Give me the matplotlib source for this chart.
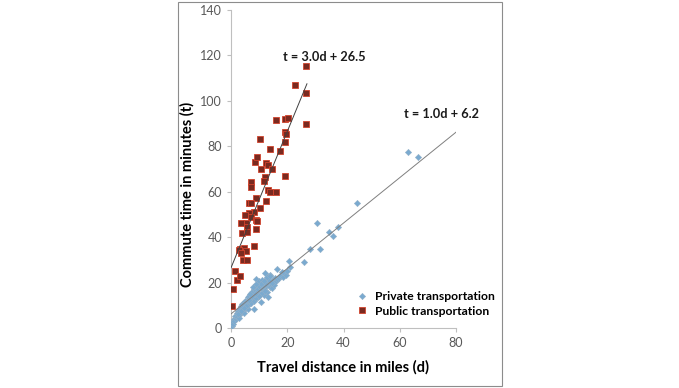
import matplotlib
matplotlib.use("Agg")
import matplotlib.pyplot as plt
from matplotlib.patches import Rectangle

plt.rcParams["font.family"] = ["Lato", "DejaVu Sans"]

# private transportation (distance in miles, commute minutes)
private_d = [0.3, 0.5, 0.8, 1.0, 1.2, 1.5, 1.7, 2.0, 2.2, 2.5, 2.7, 3.0, 3.2, 3.5, 3.7,
             4.0, 4.2, 4.5, 4.7, 5.0, 5.2, 5.5, 5.7, 6.0, 6.2, 6.5, 6.7, 7.0, 7.2, 7.5,
             7.7, 8.0, 8.2, 8.5, 8.7, 9.0, 9.2, 9.5, 9.7, 10.0, 10.2, 10.5, 10.7, 11.0,
             11.2, 11.5, 11.8, 12.0, 12.3, 12.6, 12.8, 13.0, 13.3, 13.5, 13.8, 14.0, 14.3,
             14.6, 15.0, 15.3, 15.6, 16.0, 16.2, 16.5, 17.0, 17.5, 18.0, 18.5, 19.0, 19.5,
             20.0, 20.5, 21.0, 25.8, 28.2, 31.7, 30.7, 34.7, 36.4, 37.9, 44.7, 63.1, 66.6,
             6.0, 7.0, 8.0, 9.0, 10.0, 11.0, 12.0, 8.5, 9.5, 10.5, 11.5, 12.5, 13.5, 14.5,
             7.5, 6.5, 5.5, 4.5, 3.5, 2.5, 9.8, 10.8, 11.8, 12.8, 13.8, 7.8, 8.8, 6.8]
private_t = [1.0, 2.5, 1.8, 4.0, 3.0, 5.5, 3.8, 6.5, 5.0, 7.5, 4.5, 8.5, 6.0, 9.5, 7.0,
             10.5, 8.0, 11.0, 6.5, 12.0, 9.0, 11.5, 10.0, 13.5, 8.5, 14.0, 11.0, 15.5, 12.5, 16.0,
             13.0, 17.0, 8.2, 18.5, 14.5, 21.5, 16.0, 19.5, 13.5, 20.5, 15.0, 18.0, 11.5, 21.0,
             17.0, 19.0, 14.5, 24.0, 18.5, 21.0, 16.0, 22.5, 13.5, 20.0, 18.0, 23.5, 19.5,
             17.5, 21.0, 19.0, 22.0, 20.5, 25.8, 21.5, 22.0, 23.0, 24.5, 22.5, 24.0, 23.5,
             25.0, 29.5, 27.0, 29.0, 35.0, 34.8, 46.4, 42.4, 40.7, 44.6, 55.2, 77.3, 75.1,
             10.0, 11.0, 12.0, 13.0, 14.0, 15.5, 16.5, 15.0, 17.0, 17.5, 18.5, 19.5, 21.0, 20.0,
             14.0, 12.5, 9.5, 9.0, 7.5, 6.0, 18.5, 19.5, 20.5, 22.5, 23.0, 18.0, 19.5, 15.0]

# public transportation
public_d = [26.6, 22.7, 26.6, 26.6, 15.9, 19.1, 20.2, 19.1, 19.6, 19.1, 17.3, 19.3,
            10.4, 13.8, 8.4, 9.2, 12.3, 13.2, 14.7, 10.8, 12.1, 11.7, 7.2, 7.2, 13.1,
            13.7, 16.0, 12.3, 9.0, 6.3, 7.2, 10.4, 8.0, 6.5, 7.1, 8.9, 9.2, 5.1, 5.3,
            3.7, 5.7, 9.0, 4.0, 5.7, 8.3, 3.1, 4.5, 5.3, 4.1, 5.7, 2.7, 3.7, 1.5, 2.1,
            3.1, 0.7, 0.4]
public_t = [115.3, 107.1, 103.6, 90.0, 91.5, 92.2, 92.5, 86.3, 85.3, 82.0, 78.0, 67.0,
            83.1, 79.0, 73.2, 75.4, 72.7, 71.7, 70.2, 69.8, 66.6, 64.5, 64.1, 62.2, 60.7,
            60.0, 60.0, 56.0, 57.4, 54.9, 54.9, 53.0, 51.2, 50.8, 49.0, 47.6, 47.3, 49.8, 46.4,
            46.1, 44.6, 43.5, 41.7, 42.4, 36.1, 34.7, 35.1, 34.1, 30.0, 30.0, 34.4, 32.9, 25.3, 21.2,
            22.7, 17.3, 9.5]

# fitted trend lines
public_fit = (3.0, 26.5)
private_fit = (1.0, 6.2)
public_range = [0, 27]
private_range = [0, 80]

fig = plt.figure(figsize=(6.79, 3.88), dpi=100)
ax = fig.add_axes([231 / 679, 60 / 388, 225 / 679, 318 / 388])

ax.plot(private_d, private_t, linestyle="none", marker="D", markersize=3.2,
        color="#7AAAD0", markeredgecolor="#93B0C8", markeredgewidth=0.4,
        label="Private transportation", zorder=3)
ax.plot(public_d, public_t, linestyle="none", marker="s", markersize=4.4,
        color="#7A2A20", markeredgecolor="#D2432C", markeredgewidth=0.6,
        label="Public transportation", zorder=3)

ax.plot(public_range, [public_fit[0] * x + public_fit[1] for x in public_range],
        color="#404040", linewidth=0.7, zorder=4)
ax.plot(private_range, [private_fit[0] * x + private_fit[1] for x in private_range],
        color="#7F7F7F", linewidth=0.7, zorder=4)

ax.text(33.1, 119.3, "t = 3.0d + 26.5", ha="center", va="center",
        fontsize=9.2, fontweight="bold", color="#1A1A1A")
ax.text(74.7, 94.2, "t = 1.0d + 6.2", ha="center", va="center",
        fontsize=9.2, fontweight="bold", color="#1A1A1A")

ax.set_xlim(0, 80)
ax.set_ylim(0, 140)
ax.set_xticks(range(0, 81, 20))
ax.set_yticks(range(0, 141, 20))
for s in ["top", "right"]:
    ax.spines[s].set_visible(False)
for s in ["left", "bottom"]:
    ax.spines[s].set_color("#BFBFBF")
    ax.spines[s].set_linewidth(0.8)
ax.tick_params(colors="#BFBFBF", labelcolor="#595959", labelsize=9, length=3, width=0.8)

ax.set_xlabel("Travel distance in miles (d)", fontsize=10.5, fontweight="bold")
ax.set_ylabel("Commute time in minutes (t)", fontsize=10.5, fontweight="bold")
ax.xaxis.set_label_coords(0.498, -0.10)
ax.yaxis.set_label_coords(-0.16, 0.42)

ax.legend(loc="upper left", bbox_to_anchor=(350 / 679, 1 - 285 / 388),
          bbox_transform=fig.transFigure, frameon=False,
          prop={"weight": "bold", "size": 8.7}, handlelength=1.0, handletextpad=0.6,
          borderpad=0, labelspacing=0.3)

# chart area border
fig.patches.append(Rectangle((178 / 679, 2 / 388), 324 / 679, 384 / 388,
                             transform=fig.transFigure, fill=False,
                             edgecolor="#8C8C8C", linewidth=0.8))

fig.savefig("out.png", dpi=100)
